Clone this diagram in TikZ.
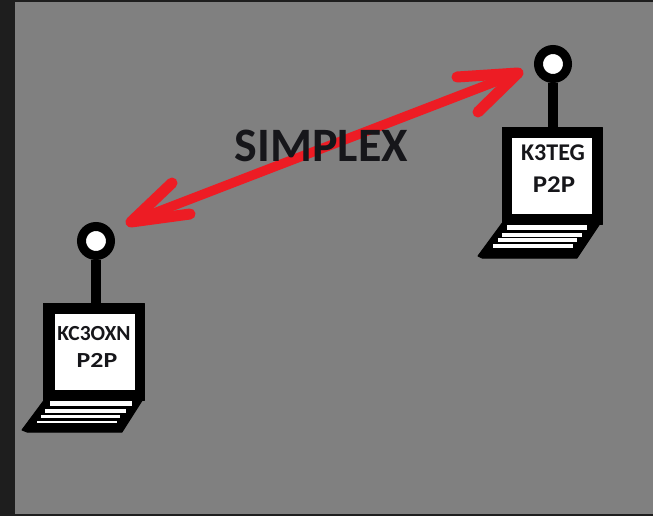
\documentclass[tikz,border=0pt]{standalone}
\usepackage{fontspec}
\usepackage{graphicx}
\setmainfont{Carlito}
\definecolor{bggray}{RGB}{128,128,128}
\definecolor{stripdark}{RGB}{30,30,30}
\definecolor{arrowred}{RGB}{237,28,36}
\definecolor{inkdark}{RGB}{22,22,26}
\tikzset{
  x=1pt,y=-1pt,
  blackpart/.style={fill=black,draw=black,line width=1pt,line join=round},
  whitepart/.style={fill=white,draw=none},
  keyline/.style={white,line width=3.6pt},
  antenna/.style={circle,fill=white,draw=black,line width=9pt,minimum size=29pt,inner sep=0pt},
  mast/.style={black,line width=10pt},
  redline/.style={arrowred,line width=9.5pt,line cap=round,line join=round},
  redbarb/.style={arrowred,line width=11pt,line cap=round,line join=round},
  lbl/.style={font=\fontsize{21.5}{21.5}\selectfont\bfseries,text=inkdark,inner sep=0pt,anchor=center},
  lblbig/.style={font=\fontsize{24}{24}\selectfont\bfseries,text=inkdark,inner sep=0pt,anchor=center},
  title/.style={font=\fontsize{48}{48}\selectfont\bfseries,text=inkdark,inner sep=0pt,anchor=center}
}
\begin{document}
\begin{tikzpicture}
\useasboundingbox (0,0) rectangle (653,516);
\fill[bggray] (0,0) rectangle (653,516);
\fill[stripdark] (0,0) rectangle (15,516);
\fill[stripdark] (0,0) rectangle (653,2);
\fill[stripdark] (0,513.5) rectangle (653,516);
% left station
\fill[blackpart] (45,399) -- (22,430) -- (27,432) -- (122,432) -- (143,399) -- cycle;
\fill[blackpart] (43.5,303.5) rectangle (144.5,400);
\fill[whitepart] (55,314) rectangle (135,390);
\draw[keyline,line width=5.5pt] (50,403.7) -- (132,403.7);
\draw[keyline,line width=4pt] (45,411) -- (126,411);
\draw[keyline,line width=3.2pt] (41,416.6) -- (120,416.6);
\draw[keyline,line width=2.5pt] (37,422) -- (117,422);
\node[antenna] (antL) at (96,241) {};
\coordinate (baseL) at (96,304);
\draw[mast] (antL.south) -- (baseL);
\node[lbl] (callL) at (94,334) {KC3OXN};
\node[lbl,xscale=1.2,transform shape] (modeL) at (97,360) {P2P};
% right station
\fill[blackpart] (503,222) -- (478,256) -- (482,258) -- (577,258) -- (601,222) -- cycle;
\fill[blackpart] (502,128) rectangle (602,224);
\fill[whitepart] (512,138) rectangle (592,214);
\draw[keyline,line width=5pt] (507,227.5) -- (587,227.5);
\draw[keyline,line width=4pt] (502,235) -- (582,235);
\draw[keyline,line width=4pt] (498,240.3) -- (577,240.3);
\draw[keyline,line width=4pt] (493,246) -- (573,246);
\node[antenna] (antR) at (553,64) {};
\coordinate (baseR) at (553,129);
\draw[mast] (antR.south) -- (baseR);
\node[lblbig] (callR) at (553,153) {K3TEG};
\node[lblbig,xscale=1.12,transform shape] (modeR) at (554,185) {P2P};
% arrow
\coordinate (tipL) at (131,222);
\coordinate (tipR) at (518,73);
\coordinate (barbL1) at (172,183);
\coordinate (barbL2) at (190,214);
\coordinate (barbR1) at (457,77);
\coordinate (barbR2) at (478,112);
\draw[redline] (tipL) -- (tipR);
\draw[redbarb] (barbL1) -- (tipL) -- (barbL2);
\draw[redbarb] (barbR1) -- (tipR) -- (barbR2);
\node[title] (simplex) at (321.5,146) {SIMPLEX};
\end{tikzpicture}
\end{document}
